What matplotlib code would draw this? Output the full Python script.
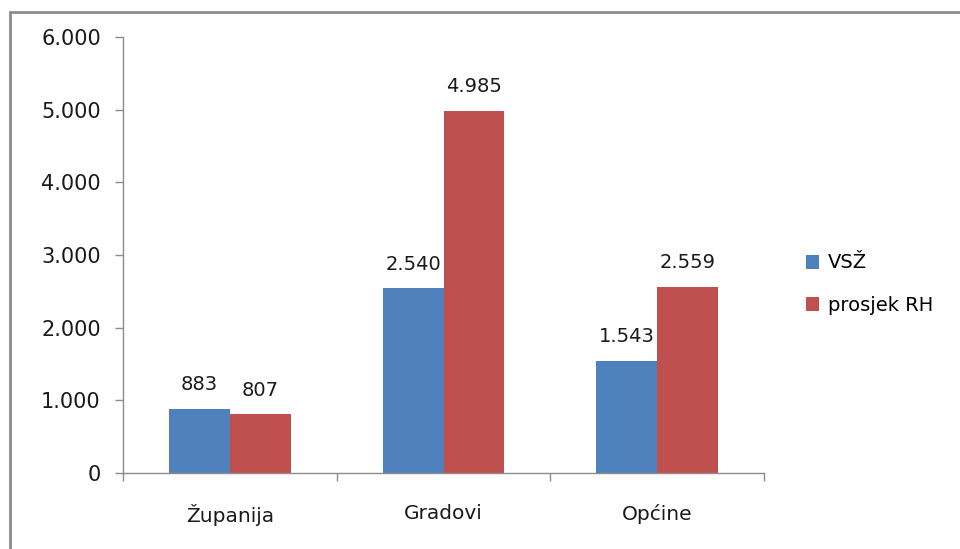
import matplotlib
matplotlib.use("Agg")
import matplotlib.pyplot as plt
import numpy as np
from matplotlib.patches import Rectangle
from matplotlib.ticker import FuncFormatter

categories = ["Županija", "Gradovi", "Općine"]
series_names = ["VSŽ", "prosjek RH"]
vsz = [883, 2540, 1543]
prosjek = [807, 4985, 2559]
yticks = [0, 1000, 2000, 3000, 4000, 5000, 6000]
colors = ["#4F81BD", "#C0504D"]

plt.rcParams['font.family'] = ['DejaVu Sans']

W, H = 960, 549
fig = plt.figure(figsize=(W / 100, H / 100), dpi=100)

# outer frame of the chart object
fig.patches.append(Rectangle((10 / W, -0.05), 1.2, (H - 12) / H + 0.05,
                             transform=fig.transFigure, fill=False,
                             edgecolor="#8c8c8c", linewidth=2.0))

ax = fig.add_axes([123 / W, (H - 473) / H, (764 - 123) / W, (473 - 37) / H])

def fmt(v):
    return f"{int(v):,}".replace(",", ".")

x = np.arange(len(categories))
bw = 0.285
b1 = ax.bar(x - bw / 2, vsz, bw, color=colors[0], label=series_names[0])
b2 = ax.bar(x + bw / 2, prosjek, bw, color=colors[1], label=series_names[1])

for bars, vals in ((b1, vsz), (b2, prosjek)):
    for r, v in zip(bars, vals):
        ax.annotate(fmt(v), (r.get_x() + r.get_width() / 2, v),
                    xytext=(0, 10.5), textcoords="offset points",
                    ha="center", va="bottom", fontsize=14, color="#1a1a1a")

ax.set_xlim(-0.5, len(categories) - 0.5)
ax.set_ylim(0, 6000)
ax.set_yticks(yticks)
ax.yaxis.set_major_formatter(FuncFormatter(lambda v, p: fmt(v)))
ax.set_xticks(x)
ax.set_xticklabels(categories)
ax.set_xticks(np.arange(len(categories) + 1) - 0.5, minor=True)
ax.tick_params(axis="x", which="major", length=0, pad=22, labelsize=14.5, colors="#1a1a1a")
ax.tick_params(axis="x", which="minor", length=6, color="#8c8c8c", width=1)
ax.tick_params(axis="y", length=6, color="#8c8c8c", width=1, pad=10, labelsize=15, labelcolor="#1a1a1a")

for s in ("top", "right"):
    ax.spines[s].set_visible(False)
for s in ("left", "bottom"):
    ax.spines[s].set_color("#8c8c8c")
    ax.spines[s].set_linewidth(1)

leg = fig.legend(handles=[b1, b2], labels=series_names,
                 loc="upper left", bbox_to_anchor=(788 / W, 1 - 236 / H),
                 frameon=False, fontsize=14, handlelength=0.7, handleheight=0.7,
                 handletextpad=0.45, labelspacing=1.2)

fig.savefig("out.png", dpi=100)
